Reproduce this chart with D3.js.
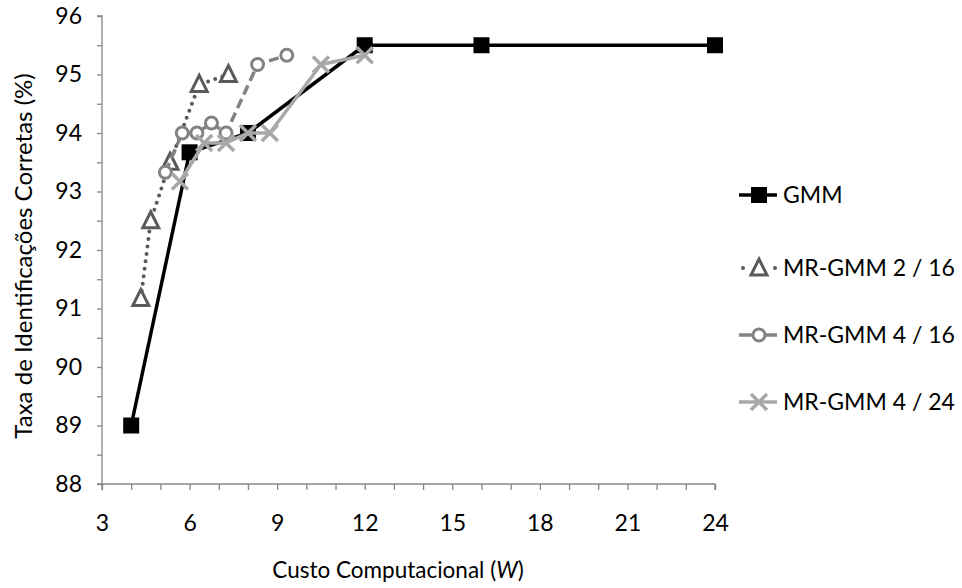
<!DOCTYPE html>
<html>
<head>
<meta charset="utf-8">
<script src="https://cdn.jsdelivr.net/npm/d3@7"></script>
<style>
html,body{margin:0;padding:0;background:#fff;}
svg{display:block;font-family:Lato,"Noto Sans",sans-serif;}
</style>
</head>
<body>
<svg id="chart" width="962" height="588"></svg>
<script>
// ---- data ----
const xTickLabels = [3, 6, 9, 12, 15, 18, 21, 24];
const yTickLabels = [88, 89, 90, 91, 92, 93, 94, 95, 96];
const seriesNames = ["GMM", "MR-GMM 2 / 16", "MR-GMM 4 / 16", "MR-GMM 4 / 24"];

const gmmX = [4, 6, 8, 12, 16, 24];
const gmmY = [89, 93.67, 94.0, 95.5, 95.5, 95.5];

const mr216X = [4.33, 4.67, 5.33, 6.33, 7.33];
const mr216Y = [91.17, 92.5, 93.5, 94.83, 95.0];

const mr416X = [5.17, 5.75, 6.25, 6.75, 7.25, 8.33, 9.33];
const mr416Y = [93.33, 94.0, 94.0, 94.17, 94.0, 95.17, 95.33];

const mr424X = [5.67, 6.5, 7.25, 8.0, 8.75, 10.5, 12.0];
const mr424Y = [93.17, 93.83, 93.83, 94.0, 94.0, 95.17, 95.33];

// ---- setup ----
const svg = d3.select("#chart");
const pLeft = 102, pRight = 715, pTop = 16, pBottom = 484;
const x = d3.scaleLinear().domain([3, 24]).range([pLeft, pRight]);
const y = d3.scaleLinear().domain([88, 96]).range([pBottom, pTop]);
const axisColor = "#868686";
const fs = 23;
const ff = "Lato,'Noto Sans',sans-serif";

// y axis
const yAxis = d3.axisLeft(y).tickValues(d3.range(88, 96.01, 0.5)).tickSize(5)
  .tickFormat(d => yTickLabels.includes(d) ? d : "");
const gy = svg.append("g").attr("transform", `translate(${pLeft},0)`).call(yAxis);
gy.select(".domain").attr("stroke", axisColor).attr("stroke-width", 1.3).attr("d", `M-5,${pTop}H0V${pBottom}H-5`);
gy.selectAll(".tick line").attr("stroke", axisColor).attr("stroke-width", 1.3);
gy.selectAll(".tick text").attr("x", -20).attr("font-size", fs).attr("fill", "#000").attr("font-family", ff);

// x axis
const xAxis = d3.axisBottom(x).tickValues(d3.range(3, 24.01, 1)).tickSize(6)
  .tickFormat(d => xTickLabels.includes(d) ? d : "");
const gx = svg.append("g").attr("transform", `translate(0,${pBottom})`).call(xAxis);
gx.select(".domain").attr("stroke", axisColor).attr("stroke-width", 1.3).attr("d", `M${pLeft},6V0H${pRight}V6`);
gx.selectAll(".tick line").attr("stroke", axisColor).attr("stroke-width", 1.3);
gx.selectAll(".tick text").attr("y", 31).attr("font-size", fs).attr("fill", "#000").attr("font-family", ff);

// axis titles
const xt = svg.append("text").attr("x", 398).attr("y", 578).attr("text-anchor", "middle")
  .attr("font-size", 22.5).attr("fill", "#000");
xt.append("tspan").text("Custo Computacional (");
xt.append("tspan").attr("font-style", "italic").text("W");
xt.append("tspan").text(")");

svg.append("text").attr("transform", "translate(32,256) rotate(-90)").attr("text-anchor", "middle")
  .attr("font-size", 24).attr("fill", "#000").text("Taxa de Identificações Corretas (%)");

// ---- series ----
const series = [
  {name: seriesNames[0], xs: gmmX, ys: gmmY, color: "#000000", width: 3.5, dash: null, cap: "butt", marker: "square"},
  {name: seriesNames[1], xs: mr216X, ys: mr216Y, color: "#5a5a5a", width: 4, dash: "0,7.5", cap: "round", marker: "triangle"},
  {name: seriesNames[2], xs: mr416X, ys: mr416Y, color: "#828282", width: 3.5, dash: "10,5", cap: "butt", marker: "circle"},
  {name: seriesNames[3], xs: mr424X, ys: mr424Y, color: "#a8a8a8", width: 3.5, dash: null, cap: "butt", marker: "x"}
];

function drawMarker(g, type, cx, cy, color) {
  if (type === "square") {
    g.append("rect").attr("x", cx - 8).attr("y", cy - 8).attr("width", 16).attr("height", 16).attr("fill", "#000");
  } else if (type === "triangle") {
    g.append("path").attr("d", `M${cx},${cy - 9}L${cx + 8},${cy + 7}L${cx - 8},${cy + 7}Z`)
      .attr("fill", "#fff").attr("stroke", color).attr("stroke-width", 3).attr("stroke-linejoin", "miter");
  } else if (type === "circle") {
    g.append("circle").attr("cx", cx).attr("cy", cy).attr("r", 6)
      .attr("fill", "#fff").attr("stroke", color).attr("stroke-width", 3);
  } else if (type === "x") {
    g.append("path").attr("d", `M${cx - 8},${cy - 8}L${cx + 8},${cy + 8}M${cx - 8},${cy + 8}L${cx + 8},${cy - 8}`)
      .attr("stroke", color).attr("stroke-width", 3.5);
  }
}

series.forEach(s => {
  const pts = s.xs.map((v, i) => [v, s.ys[i]]);
  const g = svg.append("g");
  const line = d3.line().x(d => x(d[0])).y(d => y(d[1]));
  const p = g.append("path").attr("d", line(pts)).attr("fill", "none")
    .attr("stroke", s.color).attr("stroke-width", s.width).attr("stroke-linecap", s.cap).attr("stroke-linejoin", "round");
  if (s.dash) p.attr("stroke-dasharray", s.dash);
  pts.forEach(d => drawMarker(g, s.marker, x(d[0]), y(d[1]), s.color));
});

// ---- legend ----
const legendY = [195, 268, 335, 402];
series.forEach((s, i) => {
  const g = svg.append("g");
  const ly = legendY[i];
  if (s.marker === "triangle") {
    g.append("circle").attr("cx", 743).attr("cy", ly).attr("r", 2).attr("fill", s.color);
    g.append("circle").attr("cx", 775).attr("cy", ly).attr("r", 2).attr("fill", s.color);
  } else {
    g.append("line").attr("x1", 739).attr("x2", 777).attr("y1", ly).attr("y2", ly)
      .attr("stroke", s.color).attr("stroke-width", s.width);
  }
  drawMarker(g, s.marker, 759, ly, s.color);
  g.append("text").attr("x", 783).attr("y", ly + 8).attr("font-size", fs).attr("fill", "#000").text(s.name);
});
</script>
</body>
</html>
